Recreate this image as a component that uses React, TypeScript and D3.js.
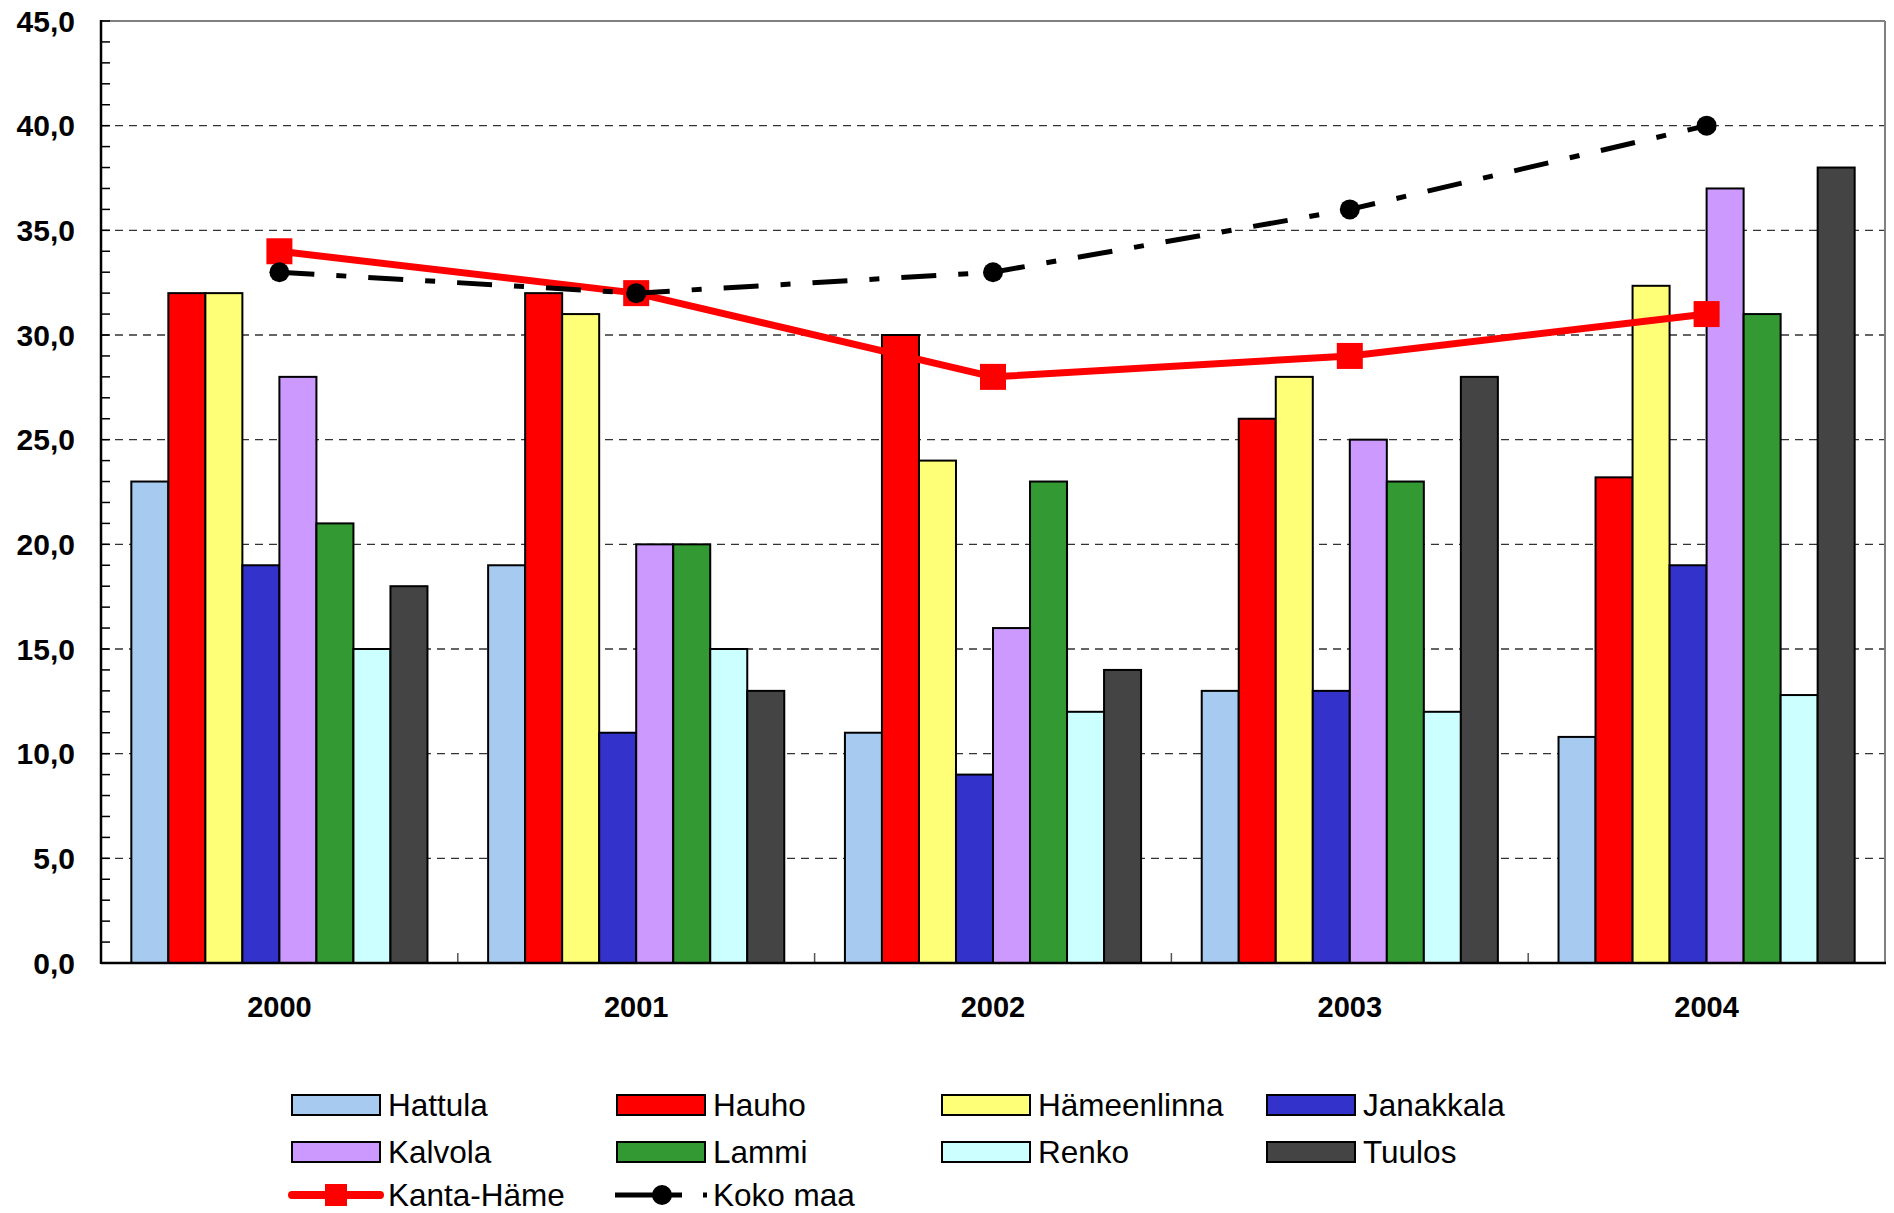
import React from "react";
import * as d3 from "d3";

const years = ["2000", "2001", "2002", "2003", "2004"];
const seriesNames = ["Hattula", "Hauho", "Hämeenlinna", "Janakkala", "Kalvola", "Lammi", "Renko", "Tuulos"];
const seriesColors = ["#A6CAF0", "#FF0000", "#FFFF77", "#3333CC", "#CC99FF", "#339933", "#CCFFFF", "#444444"];
const hattula = [23, 19, 11, 13, 10.8];
const hauho = [32, 32, 30, 26, 23.2];
const hameenlinna = [32, 31, 24, 28, 32.35];
const janakkala = [19, 11, 9, 13, 19];
const kalvola = [28, 20, 16, 25, 37];
const lammi = [21, 20, 23, 23, 31];
const renko = [15, 15, 12, 12, 12.8];
const tuulos = [18, 13, 14, 28, 38];
const kantaHame = [34, 32, 28, 29, 31];
const kokoMaa = [33, 32, 33, 36, 40];
const yTicks = [0, 5, 10, 15, 20, 25, 30, 35, 40, 45];

const barSeries = [hattula, hauho, hameenlinna, janakkala, kalvola, lammi, renko, tuulos];

const W = 1894, H = 1213;
const L = 101, R = 1885, T = 21, B = 963;

export default function App() {
  const x0 = d3.scaleBand<string>().domain(years).range([L, R]).paddingInner(0).paddingOuter(0);
  const bw = x0.bandwidth();
  const groupW = bw * 0.83;
  const off = (bw - groupW) / 2;
  const x1 = d3.scaleBand<string>().domain(seriesNames).range([off, off + groupW]).padding(0);
  const y = d3.scaleLinear().domain([0, 45]).range([B, T]);
  const cx = (yr: string) => (x0(yr) as number) + bw / 2;

  const lineGen = d3.line<number>().x((_, i) => cx(years[i])).y((v) => y(v));
  const minor = d3.range(0, 46, 1);
  const fmt = (v: number) => v.toFixed(1).replace(".", ",");

  const legendCols = [292, 617, 942, 1267];
  const legendRows = [1105, 1152, 1195];

  return (
    <div style={{ position: "absolute", left: 0, top: 0 }}>
      <svg width={W} height={H} style={{ display: "block", fontFamily: "'Liberation Sans', Arial, sans-serif" }}>
        <rect x={0} y={0} width={W} height={H} fill="#fff" />
        {yTicks.filter((t) => t > 0 && t < 45).map((t) => (
          <line key={"g" + t} x1={L} x2={R} y1={y(t)} y2={y(t)} stroke="#333" strokeWidth={1.3} strokeDasharray="8,6" />
        ))}
        <line x1={L} x2={R} y1={T} y2={T} stroke="#808080" strokeWidth={2} />
        <line x1={R} x2={R} y1={T} y2={B} stroke="#808080" strokeWidth={2} />
        {years.map((yr, i) => (
          <g key={yr} transform={`translate(${x0(yr)},0)`}>
            {seriesNames.map((s, j) => {
              const v = barSeries[j][i];
              return (
                <rect key={s} x={x1(s) as number} y={y(v)} width={x1.bandwidth()} height={B - y(v)}
                  fill={seriesColors[j]} stroke="#000" strokeWidth={2} />
              );
            })}
          </g>
        ))}
        {minor.map((t) => (
          <line key={"m" + t} x1={L} x2={L + 9} y1={y(t)} y2={y(t)} stroke="#000" strokeWidth={1.5} />
        ))}
        {years.slice(1).map((yr) => (
          <line key={"xt" + yr} x1={x0(yr) as number} x2={x0(yr) as number} y1={B} y2={B - 10} stroke="#555" strokeWidth={1.5} />
        ))}
        <line x1={L} x2={L} y1={T - 1} y2={B + 1} stroke="#000" strokeWidth={2.5} />
        <line x1={L} x2={R + 1} y1={B} y2={B} stroke="#000" strokeWidth={2.5} />
        {yTicks.map((t) => (
          <text key={"yl" + t} x={75} y={y(t)} dy="0.36em" textAnchor="end" fontWeight="bold" fontSize={30}>{fmt(t)}</text>
        ))}
        {years.map((yr) => (
          <text key={"xl" + yr} x={cx(yr)} y={1017} textAnchor="middle" fontWeight="bold" fontSize={29}>{yr}</text>
        ))}
        <path d={lineGen(kantaHame) as string} fill="none" stroke="#FF0000" strokeWidth={7} strokeLinejoin="round" />
        {kantaHame.map((v, i) => (
          <rect key={"kh" + i} x={cx(years[i]) - 13} y={y(v) - 13} width={26} height={26} fill="#FF0000" />
        ))}
        <path d={lineGen(kokoMaa) as string} fill="none" stroke="#000" strokeWidth={5} strokeDasharray="35,22,10,22" />
        {kokoMaa.map((v, i) => (
          <circle key={"km" + i} cx={cx(years[i])} cy={y(v)} r={10} fill="#000" />
        ))}
        {seriesNames.map((s, j) => {
          const col = j % 4, row = Math.floor(j / 4);
          const lx = legendCols[col], ly = legendRows[row];
          return (
            <g key={"lg" + s}>
              <rect x={lx} y={ly - 10} width={88} height={20} fill={seriesColors[j]} stroke="#000" strokeWidth={2} />
              <text x={lx + 96} y={ly} dy="0.36em" fontSize={31.5}>{s}</text>
            </g>
          );
        })}
        <g>
          <line x1={legendCols[0]} x2={legendCols[0] + 88} y1={legendRows[2]} y2={legendRows[2]} stroke="#FF0000" strokeWidth={8} strokeLinecap="round" />
          <rect x={legendCols[0] + 33} y={legendRows[2] - 11} width={22} height={22} fill="#FF0000" />
          <text x={legendCols[0] + 96} y={legendRows[2]} dy="0.36em" fontSize={31.5}>Kanta-Häme</text>
        </g>
        <g>
          <line x1={legendCols[1] - 2} x2={legendCols[1] + 65} y1={legendRows[2]} y2={legendRows[2]} stroke="#000" strokeWidth={5} />
          <line x1={legendCols[1] + 86} x2={legendCols[1] + 90} y1={legendRows[2]} y2={legendRows[2]} stroke="#000" strokeWidth={5} />
          <circle cx={legendCols[1] + 45} cy={legendRows[2]} r={10} fill="#000" />
          <text x={legendCols[1] + 96} y={legendRows[2]} dy="0.36em" fontSize={31.5}>Koko maa</text>
        </g>
      </svg>
    </div>
  );
}
